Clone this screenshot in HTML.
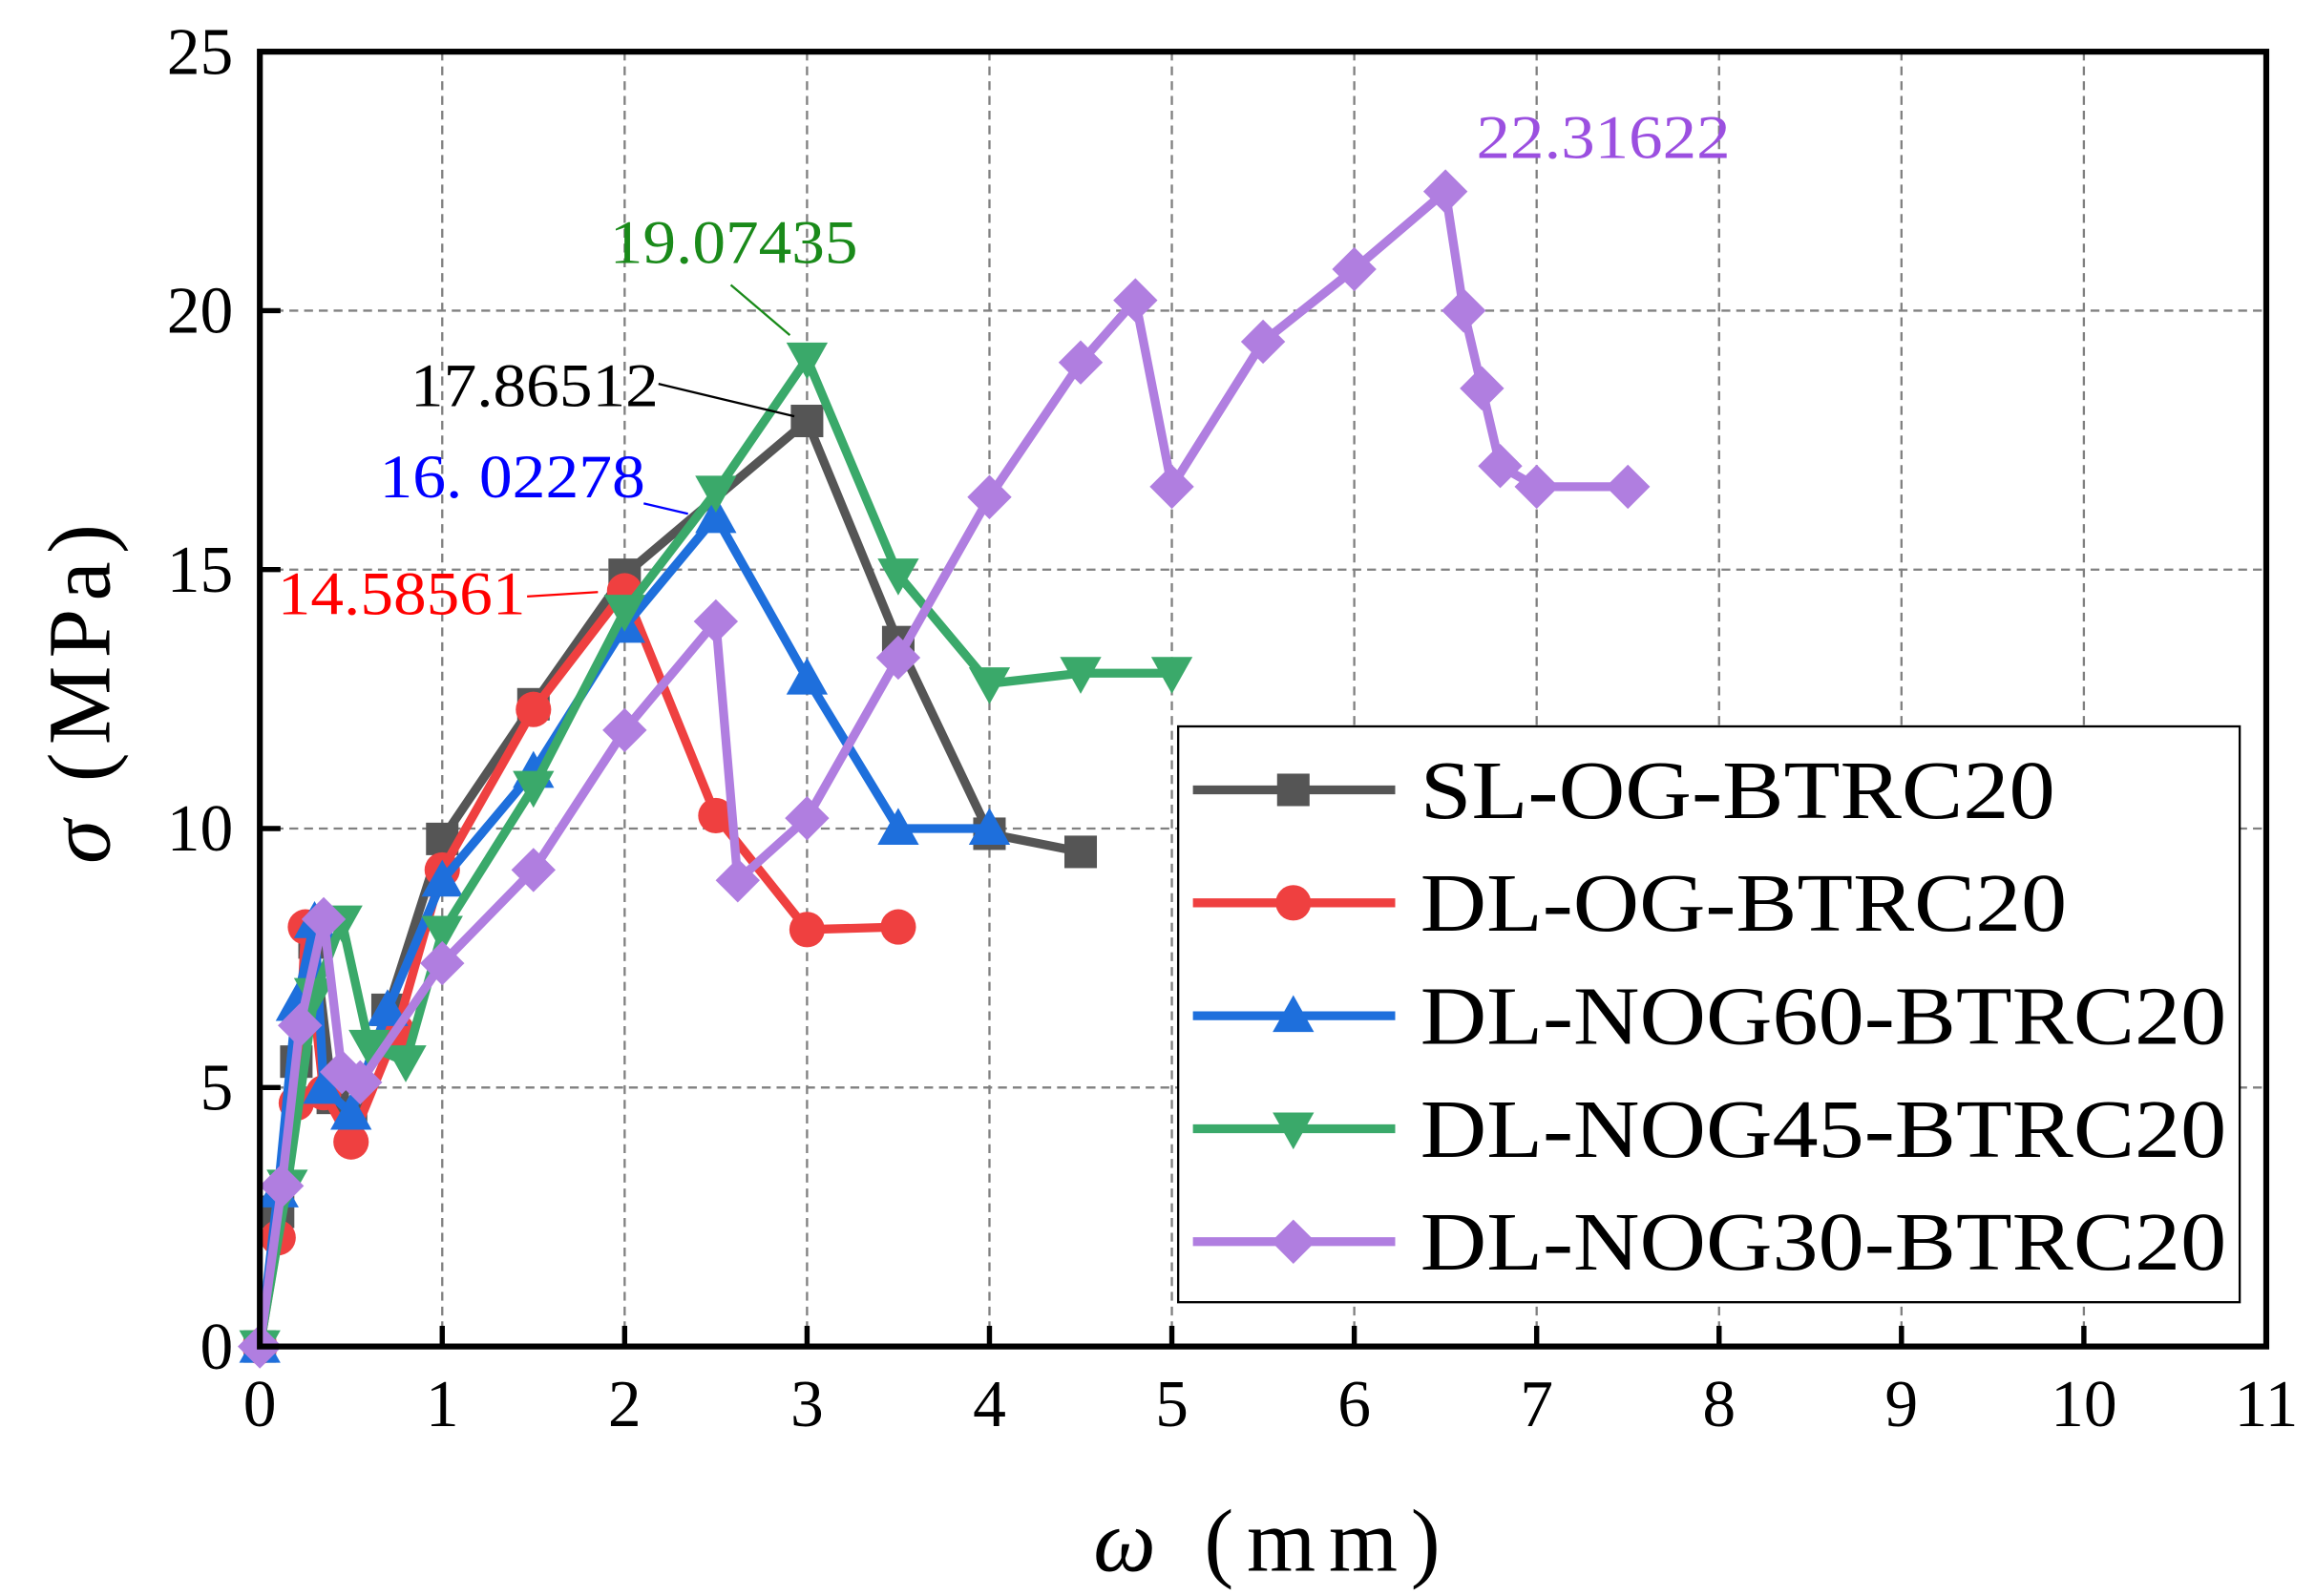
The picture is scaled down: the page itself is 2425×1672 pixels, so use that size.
<!DOCTYPE html>
<html><head><meta charset="utf-8"><style>
html,body{margin:0;padding:0;background:#fff}
svg{display:block}
text{font-family:"Liberation Serif",serif}
</style></head><body>
<svg id="s" width="2425" height="1672" viewBox="0 0 1568 1081" preserveAspectRatio="none" xmlns="http://www.w3.org/2000/svg"></svg>
<script>
const s=document.getElementById('s');
const X0=176,XU=(1535-176)/11,Y0=912,YU=(912-35)/25;
const px=x=>X0+x*XU,py=y=>Y0-y*YU;
let h='';
for(let i=1;i<=10;i++)h+=`<line x1="${px(i)}" y1="35" x2="${px(i)}" y2="912" stroke="#808080" stroke-width="1.5" stroke-dasharray="6,4"/>`;
for(let j=5;j<=20;j+=5)h+=`<line x1="176" y1="${py(j)}" x2="1535" y2="${py(j)}" stroke="#808080" stroke-width="1.5" stroke-dasharray="6,4"/>`;
for(let i=0;i<=11;i++){h+=`<line x1="${px(i)}" y1="912" x2="${px(i)}" y2="898" stroke="#000" stroke-width="3.5"/>`;
h+=`<text x="${px(i)}" y="966" font-size="45" text-anchor="middle">${i}</text>`;}
for(let j=0;j<=25;j+=5){h+=`<line x1="176" y1="${py(j)}" x2="190" y2="${py(j)}" stroke="#000" stroke-width="3.5"/>`;
h+=`<text x="158" y="${py(j)+15}" font-size="45" text-anchor="end">${j}</text>`;}
const S=[
['#555','sq',[[0,0],[0.1,2.6],[0.2,5.5],[0.3,7.8],[0.4,4.8],[0.5,4.5],[0.7,6.5],[1,9.8],[1.5,12.4],[2,14.9],[3,17.87],[3.5,13.6],[4,9.9],[4.5,9.55]]],
['#ef4040','ci',[[0,0],[0.1,2.1],[0.2,4.7],[0.25,8.1],[0.35,4.9],[0.5,3.95],[0.75,6.1],[1,9.2],[1.5,12.3],[2,14.59],[2.5,10.25],[3,8.05],[3.5,8.1]]],
['#1e6fdc','up',[[0,0],[0.1,3],[0.2,6.6],[0.3,8.2],[0.35,5.0],[0.5,4.5],[0.7,6.5],[1,9.0],[1.5,11.1],[2,13.9],[2.5,16.02],[3,12.9],[3.5,10],[4,10]]],
['#3aa96a','dn',[[0,0],[0.15,3.1],[0.3,6.8],[0.45,8.2],[0.6,5.8],[0.8,5.5],[1,8.0],[1.5,10.8],[2,14.2],[2.5,16.5],[3,19.07],[3.5,14.9],[4,12.8],[4.5,13.0],[5,13.0]]],
['#b07ee0','di',[[0,0],[0.12,3.1],[0.22,6.2],[0.35,8.25],[0.45,5.3],[0.55,5.1],[1,7.4],[1.5,9.2],[2,11.9],[2.5,14],[2.62,9.0],[3,10.2],[3.5,13.3],[4,16.4],[4.5,19.0],[4.8,20.2],[5,16.6],[5.5,19.4],[6,20.8],[6.5,22.3],[6.6,20.0],[6.7,18.5],[6.8,17],[7,16.6],[7.5,16.6]]]];
function mk(t,x,y,c){
 if(t=='sq')return `<rect x="${x-11}" y="${y-11}" width="22" height="22" fill="${c}"/>`;
 if(t=='ci')return `<circle cx="${x}" cy="${y}" r="12" fill="${c}"/>`;
 if(t=='up')return `<polygon points="${x},${y-14} ${x-14},${y+11} ${x+14},${y+11}" fill="${c}"/>`;
 if(t=='dn')return `<polygon points="${x},${y+14} ${x-14},${y-11} ${x+14},${y-11}" fill="${c}"/>`;
 return `<polygon points="${x},${y-15} ${x+15},${y} ${x},${y+15} ${x-15},${y}" fill="${c}"/>`;}
for(const [c,t,d] of S){h+=`<polyline fill="none" stroke="${c}" stroke-width="6" stroke-linejoin="round" points="${d.map(p=>px(p[0])+','+py(p[1])).join(' ')}"/>`;
for(const p of d)h+=mk(t,px(p[0]),py(p[1]),c);}
h+=`<rect x="176" y="35" width="1359" height="877" fill="none" stroke="#000" stroke-width="4"/>`;
h+=`<text x="1000" y="107" font-size="42" fill="#9b4fe0" textLength="172" lengthAdjust="spacingAndGlyphs">22.31622</text>`;
h+=`<text x="413" y="178" font-size="42" fill="#1a8a1a" textLength="168" lengthAdjust="spacingAndGlyphs">19.07435</text><line x1="495" y1="193" x2="535" y2="227" stroke="#1a8a1a" stroke-width="1.5"/>`;
h+=`<text x="278" y="275" font-size="42" fill="#000" textLength="168" lengthAdjust="spacingAndGlyphs">17.86512</text><line x1="446" y1="260" x2="538" y2="282" stroke="#000" stroke-width="1.5"/>`;
h+=`<text x="257" y="337" font-size="42" fill="#0000ff" textLength="180" lengthAdjust="spacingAndGlyphs">16. 02278</text><line x1="436" y1="341" x2="466" y2="348" stroke="#0000ff" stroke-width="1.5"/>`;
h+=`<text x="188" y="416" font-size="42" fill="#ff0000" textLength="168" lengthAdjust="spacingAndGlyphs">14.58561</text><line x1="357" y1="404" x2="405" y2="401" stroke="#ff0000" stroke-width="1.5"/>`;
h+=`<rect x="798" y="492" width="719" height="390" fill="#fff" stroke="#000" stroke-width="1.5"/>`;
const L=[['SL-OG-BTRC20',430],['DL-OG-BTRC20',438],['DL-NOG60-BTRC20',546],['DL-NOG45-BTRC20',546],['DL-NOG30-BTRC20',546]];
L.forEach(([n,w],i)=>{const y=535+i*76.5;const [c,t]=S[i];
h+=`<line x1="808" y1="${y}" x2="945" y2="${y}" stroke="${c}" stroke-width="6"/>`+mk(t,876,y,c);
h+=`<text x="962" y="${y+19}" font-size="56" textLength="${w}" lengthAdjust="spacingAndGlyphs">${n}</text>`;});
h+=`<text transform="translate(74,470) rotate(-90)" font-size="60" text-anchor="middle" textLength="230"><tspan font-style="italic">σ</tspan>  (MPa)</text>`;
h+=`<text x="858" y="1064" font-size="60" text-anchor="middle" textLength="235"><tspan font-style="italic">ω</tspan>    (mm)</text>`;
s.innerHTML=h;
</script>
</body></html>
